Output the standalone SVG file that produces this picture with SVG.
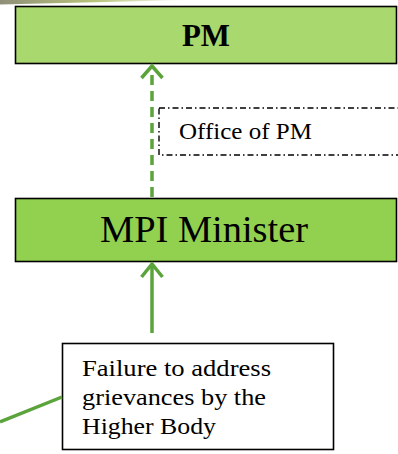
<svg xmlns="http://www.w3.org/2000/svg" width="398" height="454" viewBox="0 0 398 454">
<style>
.box{stroke:#000;stroke-width:1.6}
.t{font-family:"Liberation Serif","Times New Roman",serif;fill:#000}
.c{fill:none;stroke:#5ba33b;stroke-width:3.5}
</style>
<defs>
<linearGradient id="g" x1="0" y1="0" x2="1" y2="0">
<stop offset="0" stop-color="#8f8f78"/>
<stop offset="0.5" stop-color="#b9c27a"/>
<stop offset="1" stop-color="#ffffff"/>
</linearGradient>
</defs>
<rect width="398" height="454" fill="#fff"/>
<path d="M0,0 L188,0 L0,4.5 Z" fill="url(#g)"/>
<g id="pm">
<rect class="box" x="15.5" y="6.5" width="381" height="57" fill="#a8d86e"/>
<text class="t" x="182" y="46" font-size="31" font-weight="bold" textLength="48" lengthAdjust="spacingAndGlyphs">PM</text>
</g>
<g id="office">
<rect x="159" y="108" width="260" height="47" fill="none" stroke="#000" stroke-width="1.4" stroke-dasharray="6,3,1.5,3"/>
<text class="t" x="179" y="139" font-size="23" textLength="133" lengthAdjust="spacingAndGlyphs">Office of PM</text>
</g>
<g id="mpi">
<rect class="box" x="15.5" y="198.5" width="381" height="63" fill="#92d050"/>
<text class="t" x="100" y="242" font-size="38" textLength="208" lengthAdjust="spacingAndGlyphs">MPI Minister</text>
</g>
<g id="failure">
<rect class="box" x="62.5" y="343.5" width="271" height="106" fill="#fff"/>
<text class="t" x="82" y="376" font-size="24" textLength="189" lengthAdjust="spacingAndGlyphs">Failure to address</text>
<text class="t" x="82" y="405" font-size="24" textLength="184" lengthAdjust="spacingAndGlyphs">grievances by the</text>
<text class="t" x="82" y="434" font-size="24" textLength="134" lengthAdjust="spacingAndGlyphs">Higher Body</text>
</g>
<g id="connectors">
<line class="c" x1="152" y1="197" x2="152" y2="68" stroke-dasharray="10,6"/>
<polyline class="c" points="141.5,78 152,66 162.5,78"/>
<line class="c" x1="152" y1="333" x2="152" y2="264"/>
<polyline class="c" points="141.5,277 152,264 162.5,277"/>
<line class="c" x1="0" y1="422" x2="62" y2="397"/>
</g>
</svg>
